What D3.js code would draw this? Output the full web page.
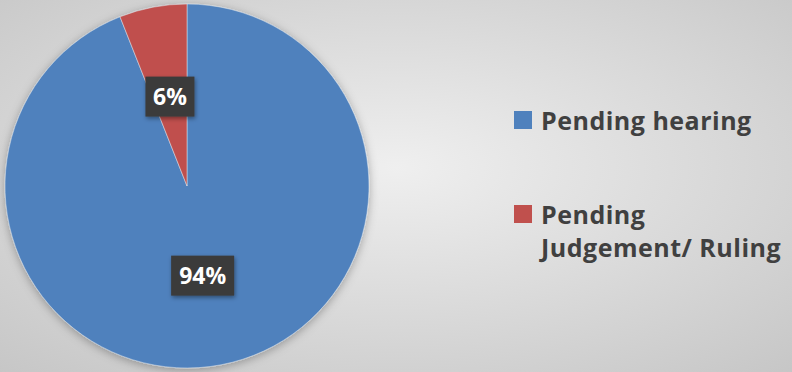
<!DOCTYPE html>
<html>
<head>
<meta charset="utf-8">
<script src="https://cdn.jsdelivr.net/npm/d3@7"></script>
<style>
  html, body { margin: 0; padding: 0; }
  svg { display: block; }
</style>
</head>
<body>
<svg id="chart" width="792" height="372"></svg>
<script>
// Case status breakdown
const categories = ["Pending hearing", "Pending Judgement/ Ruling"];
const values = [94, 6];
const legendLines = [["Pending hearing"], ["Pending", "Judgement/ Ruling"]];
const colors = ["#4f81bd", "#c0504d"];

const W = 792, H = 372;
const svg = d3.select("#chart");
const defs = svg.append("defs");

// radial background
const bg = defs.append("radialGradient").attr("id", "bg")
  .attr("cx", "50%").attr("cy", "45%").attr("r", "75%");
bg.append("stop").attr("offset", "0%").attr("stop-color", "#efefef");
bg.append("stop").attr("offset", "100%").attr("stop-color", "#c6c6c6");
svg.append("rect").attr("width", W).attr("height", H).attr("fill", "url(#bg)");

const shadow = defs.append("filter").attr("id", "shadow")
  .attr("x", "-20%").attr("y", "-20%").attr("width", "140%").attr("height", "140%");
shadow.append("feDropShadow").attr("dx", 0).attr("dy", 2)
  .attr("stdDeviation", 5).attr("flood-color", "#000").attr("flood-opacity", 0.3);

const labShadow = defs.append("filter").attr("id", "labShadow")
  .attr("x", "-30%").attr("y", "-30%").attr("width", "160%").attr("height", "160%");
labShadow.append("feDropShadow").attr("dx", 1).attr("dy", 2)
  .attr("stdDeviation", 2).attr("flood-color", "#000").attr("flood-opacity", 0.4);

const cx = 187, cy = 186, r = 182;
const pie = d3.pie().sort(null).value(d => d)
  .startAngle(0).endAngle(2 * Math.PI);
const arcs = pie(values);
const arc = d3.arc().innerRadius(0).outerRadius(r);

const g = svg.append("g").attr("transform", `translate(${cx},${cy})`);
g.append("g").attr("filter", "url(#shadow)")
  .selectAll("path").data(arcs).join("path")
  .attr("d", arc)
  .attr("fill", (d, i) => colors[i])
  .attr("stroke", "#dfe6ee").attr("stroke-width", 0.5);

// data labels in dark boxes, placed at half the radius
const labelR = r * 0.5;
const labelAngle = (d, i) => i === 0 ? Math.PI * 0.945 : (d.startAngle + d.endAngle) / 2;
const lg = g.selectAll("g.lab").data(arcs).join("g").attr("class", "lab")
  .attr("transform", (d, i) => {
    const a = labelAngle(d, i);
    return `translate(${labelR * Math.sin(a)},${-labelR * Math.cos(a)})`;
  });
const boxW = [63, 49], boxH = 40;
lg.append("rect")
  .attr("x", (d, i) => -boxW[i] / 2).attr("y", -boxH / 2)
  .attr("width", (d, i) => boxW[i]).attr("height", boxH)
  .attr("fill", "#3b3b3b").attr("filter", "url(#labShadow)");
lg.append("text")
  .attr("text-anchor", "middle").attr("dy", "0.36em")
  .attr("fill", "#ffffff")
  .style("font-family", "'Open Sans', Lato, sans-serif")
  .style("font-weight", 700).style("font-size", "23px")
  .text(d => d.value + "%");

// legend
const leg = svg.append("g");
const legY = [120, 214];
const lineGap = 33;
legendLines.forEach((lines, i) => {
  leg.append("rect").attr("x", 514).attr("y", legY[i] - 9)
    .attr("width", 18).attr("height", 18).attr("fill", colors[i]);
  lines.forEach((ln, j) => {
    leg.append("text")
      .attr("x", 541).attr("y", legY[i] + 10 + j * lineGap)
      .attr("fill", "#404040")
      .style("font-family", "'Open Sans', Lato, sans-serif")
      .style("font-weight", 700).style("font-size", "25px")
      .style("letter-spacing", "0.5px")
      .text(ln);
  });
});
</script>
</body>
</html>
